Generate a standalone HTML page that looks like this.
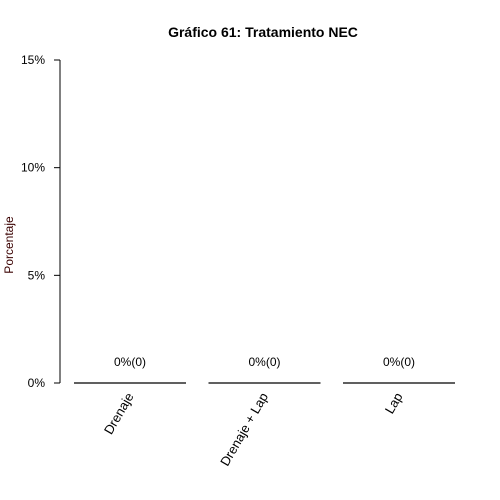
<!DOCTYPE html>
<html><head><meta charset="utf-8"><style>body{margin:0;background:#fff}svg{display:block;font-family:"Liberation Sans",Arial,sans-serif}</style></head>
<body>
<svg width="500" height="500">
<script>
const categories=["Drenaje","Drenaje + Lap","Lap"];
const values=[0,0,0];
const counts=[0,0,0];
const yTicks=[0,5,10,15];
</script>
<text x="263" y="37" text-anchor="middle" font-weight="bold" font-size="14">Gráfico 61: Tratamiento NEC</text>
<text transform="translate(13,245) rotate(-90)" text-anchor="middle" font-size="12" fill="#3a0000">Porcentaje</text>
<g id="axis"></g>
<g id="bars"></g>
<script>
(function(){
const ns="http://www.w3.org/2000/svg";
const y=v=>383-(v/15)*(383-60);
const x0=74,step=134.5,bw=112;
const ax=document.getElementById('axis'),bg=document.getElementById('bars');
function mk(t,a,p){const e=document.createElementNS(ns,t);for(const k in a)e.setAttribute(k,a[k]);p.appendChild(e);return e;}
const al=mk('line',{x1:60,x2:60,y1:y(15),y2:y(0),stroke:'#000'},ax);


yTicks.forEach(t=>{
 const l=mk('line',{x1:54,x2:60,y1:y(t),y2:y(t),stroke:'#000'},ax);
 
 
 const tx=mk('text',{x:45,y:y(t)+4,'text-anchor':'end','font-size':12},ax);
 tx.textContent=t+'%';
 
 
});
categories.forEach((c,i)=>{
 const xs=x0+i*step,cx=xs+bw/2;
 const top=y(values[i]);
 const r=mk('rect',{x:xs,y:top,width:bw,height:Math.max(0,y(0)-top),fill:'#ccc',stroke:'#000'},bg);
 
 
 const tl=mk('line',{x1:xs,x2:xs+bw,y1:top,y2:top,stroke:'#000','stroke-width':1.2},bg);
 
 
 const v=mk('text',{x:cx,y:top-17,'text-anchor':'middle','font-size':12},bg);
 v.textContent=values[i]+'%('+counts[i]+')';
 
 
 const lb=mk('text',{transform:'translate('+(cx+4)+',396) rotate(-60)','text-anchor':'end','font-size':13},bg);
 lb.textContent=c;
 
 
});
})();
</script>
</svg>
</body></html>
